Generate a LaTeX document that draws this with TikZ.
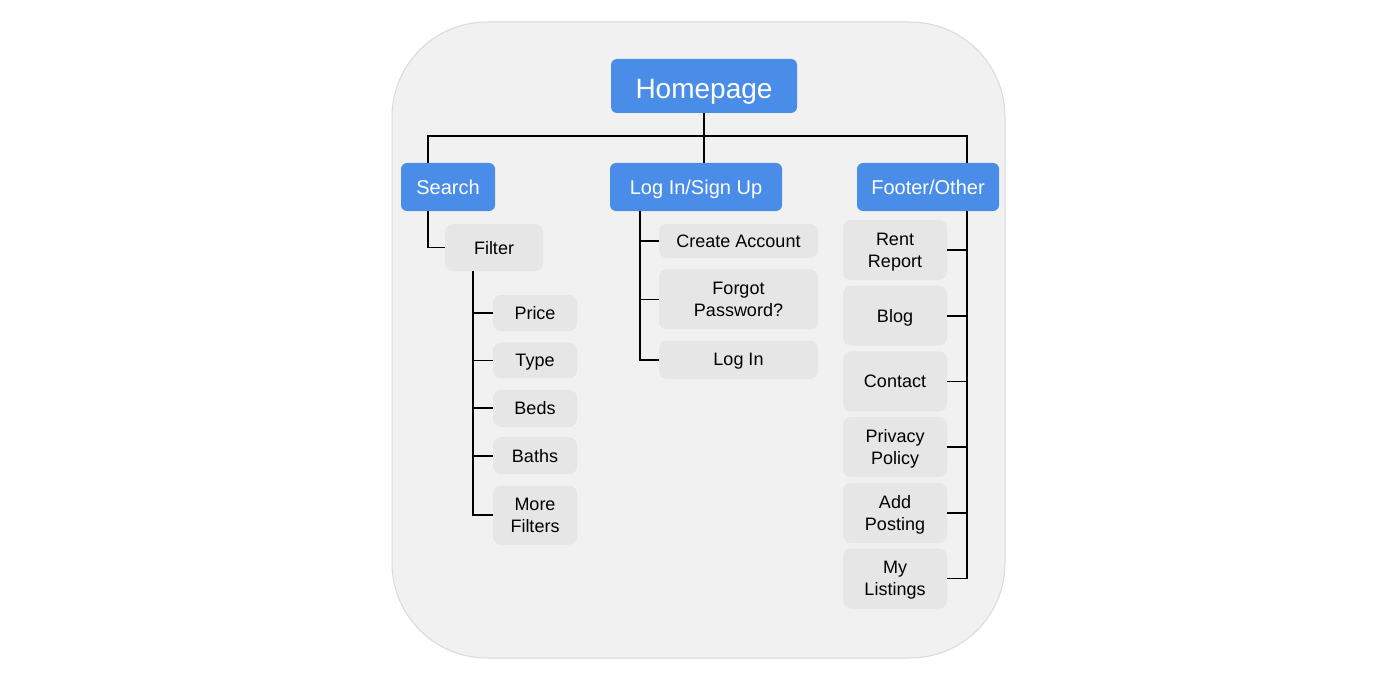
\documentclass[tikz,border=0pt]{standalone}
\usepackage{fontspec}
\setmainfont{Liberation Sans}
\usetikzlibrary{positioning}
\definecolor{pageblue}{HTML}{4A8DE9}
\definecolor{itemgray}{HTML}{E6E6E6}
\definecolor{panelgray}{HTML}{F1F1F1}
\definecolor{paneledge}{HTML}{D9D9D9}

\begin{document}
\begin{tikzpicture}[
        x=1pt, y=-1pt,
        page/.style={rectangle, fill=pageblue, text=white, rounded corners=6pt, inner sep=0pt, text depth=0pt, minimum height=48pt, font=\fontsize{20}{24}\selectfont},
        item/.style={rectangle, fill=itemgray, text=black, rounded corners=8pt, inner sep=0pt, text depth=0pt, align=center, font=\fontsize{18}{22}\selectfont},
        link/.style={draw=black, line width=1.8pt}
    ]
        \useasboundingbox (0,0) rectangle (1394,679);
        \fill[panelgray, draw=paneledge, line width=1pt, rounded corners=95pt] (392,22) rectangle (1005,658);

        % Top level
        \node[page, minimum width=186pt, minimum height=54pt, text height=26pt, font=\fontsize{28}{32}\selectfont] (home) at (704,86) {Homepage};
        \node[page, minimum width=94pt] (search) at (448,187) {Search};
        \node[page, minimum width=172pt] (login) at (696,187) {Log In/Sign Up};
        \node[page, minimum width=142pt] (footer) at (928,187) {Footer/Other};

        \coordinate (sbus) at (428,136);
        \coordinate (fbus) at (967,136);
        \draw[link] (home.south) -- (home.south |- login.north);
        \draw[link] (search.north -| sbus) -- (sbus) -- (fbus) -- (footer.north -| fbus);

        % Search side
        \node[item, minimum width=98pt, minimum height=47pt] (filter) at (494,247.5) {Filter};
        \node[item, minimum width=84pt, minimum height=36pt] (price) at (535,313) {Price};
        \node[item, minimum width=84pt, minimum height=36pt, below=11pt of price] (type) {Type};
        \node[item, minimum width=84pt, minimum height=37pt, below=11pt of type] (beds) {Beds};
        \node[item, minimum width=84pt, minimum height=37pt, below=10pt of beds] (baths) {Baths};
        \node[item, minimum width=84pt, minimum height=59pt, below=11pt of baths] (more) {More\\Filters};

        \coordinate (fx) at (473,0);
        \draw[link] (search.south -| sbus) |- (filter.west);
        \draw[link] (filter.south -| fx) |- (more.west);
        \foreach \n in {price,type,beds,baths}
            \draw[link] (\n.west -| fx) -- (\n.west);

        % Log in side
        \node[item, minimum width=159pt, minimum height=34pt] (create) at (738.5,241) {Create Account};
        \node[item, minimum width=159pt, minimum height=60pt, below=11pt of create] (forgot) {Forgot\\Password?};
        \node[item, minimum width=159pt, minimum height=38pt, below=11pt of forgot] (signin) {Log In};

        \coordinate (lx) at (640,0);
        \draw[link] (login.south -| lx) |- (signin.west);
        \foreach \n in {create,forgot}
            \draw[link] (\n.west -| lx) -- (\n.west);

        % Footer side
        \node[item, minimum width=104pt, minimum height=60pt] (rent) at (895,250) {Rent\\Report};
        \node[item, minimum width=104pt, minimum height=60pt, below=5.3pt of rent] (blog) {Blog};
        \node[item, minimum width=104pt, minimum height=60pt, below=5.3pt of blog] (contact) {Contact};
        \node[item, minimum width=104pt, minimum height=60pt, below=5.3pt of contact] (privacy) {Privacy\\Policy};
        \node[item, minimum width=104pt, minimum height=60pt, below=5.3pt of privacy] (posting) {Add\\Posting};
        \node[item, minimum width=104pt, minimum height=60pt, below=5.3pt of posting] (listings) {My\\Listings};

        \draw[link] (footer.south -| fbus) |- (listings.east);
        \foreach \n in {rent,blog,contact,privacy,posting}
            \draw[link] (\n.east -| fbus) -- (\n.east);
    \end{tikzpicture}
\end{document}
